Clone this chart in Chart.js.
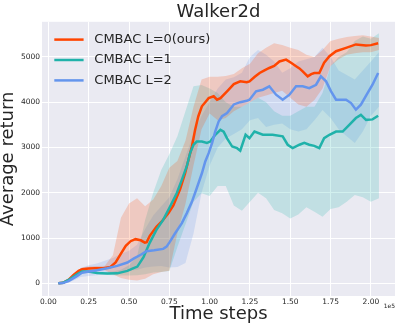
<!DOCTYPE html>
<html>
<head>
<meta charset="utf-8">
<script src="https://cdn.jsdelivr.net/npm/chart.js@4/dist/chart.umd.min.js"></script>
<style>
html,body{margin:0;padding:0;background:#fff;}
canvas{display:block;}
</style>
</head>
<body>
<canvas id="c" width="399" height="325"></canvas>
<script>
// ---- data ----
const seriesLabels = ['CMBAC L=0(ours)', 'CMBAC L=1', 'CMBAC L=2'];

// mean curves, each with its own time steps
const stepsL0 = [6200,9000,12500,15600,18750,21000,25000,29000,34000,38500,41700,44800,48000,51000,54000,57300,59800,61000,62900,67000,70200,74400,77500,81700,84800,86900,89000,91000,93000,95200,97300,99400,102500,104600,106700,110800,115000,119000,123000,124700,128000,131000,134000,137000,140000,143300,147400,150500,153600,155700,157700,160800,163000,164900,168000,171000,174300,178400,184600,190700,196900,200000,204500];
const meanL0  = [0,10,75,185,275,310,325,333,333,360,460,645,830,930,975,950,900,910,1050,1250,1360,1545,1720,2080,2430,2730,3020,3390,3690,3910,4000,4090,4130,4055,4090,4240,4400,4460,4440,4460,4560,4645,4700,4755,4800,4900,4940,4870,4795,4745,4680,4570,4620,4645,4645,4870,5015,5125,5200,5275,5250,5260,5300];

const stepsL1 = [6200,9000,12500,17700,20800,25000,30200,36500,42700,49000,52500,55200,59000,62900,67000,71200,75400,79600,82700,85800,87900,90000,92000,95200,98300,100400,103500,106700,108700,110800,114000,117000,119000,122300,124700,127800,133000,139000,145300,148400,151500,155700,158700,161800,164900,168000,171000,174300,178400,182500,186600,190700,193800,197000,201000,204500];
const meanL1  = [0,10,75,200,260,260,230,215,220,275,330,370,580,900,1180,1400,1690,1990,2280,2580,2875,3060,3130,3130,3100,3130,3280,3390,3350,3200,3020,2985,2930,3280,3205,3350,3280,3280,3245,3060,2985,3060,3100,3060,3035,2985,3205,3280,3350,3350,3500,3650,3720,3610,3620,3700];

const stepsL2 = [6200,9000,12500,17700,20800,25000,30200,36500,42700,49000,53100,57300,60800,65600,71200,73300,75400,78500,82700,85800,89000,92000,95200,97300,99400,101500,103500,105600,107700,110800,115000,119000,123000,124700,128800,133000,137000,141200,145300,149500,153600,157700,161800,166000,169000,172200,175300,178400,181500,184600,187700,190700,193800,198000,201000,204500];
const meanL2  = [0,5,50,160,235,260,290,333,385,460,550,630,710,730,760,810,920,1100,1325,1545,1800,2100,2430,2690,2875,3095,3355,3575,3690,3760,3950,4000,4030,4055,4240,4275,4350,4165,4055,4165,4350,4350,4310,4385,4570,4460,4240,4055,4055,4055,3980,3835,3945,4205,4385,4645];

// shaded bands (upper / lower), on a common step grid
const stepsBand = [6000,10000,15000,20000,25000,30000,35000,40000,45000,50000,55000,60000,65000,70000,75000,80000,85000,90000,95000,100000,105000,110000,115000,120000,125000,130000,135000,140000,145000,150000,155000,160000,165000,170000,175000,180000,185000,190000,195000,200000,205000];
const upperL0 = [0,30,150,340,370,380,390,620,1450,1760,1880,1700,1850,2150,2550,2700,3150,3900,4500,4560,4560,4580,4620,4750,4850,5080,5200,5300,5260,5200,5150,5050,5000,5150,5350,5400,5440,5460,5480,5450,5420];
const lowerL0 = [0,5,80,250,290,300,290,200,120,80,60,100,200,250,280,1100,1750,2600,3400,3750,3600,3650,3800,3900,4000,4100,4150,4200,4250,4100,3950,3900,4050,4300,4800,4950,5050,5080,5100,5100,5150];
const upperL1 = [0,25,140,270,280,260,250,260,300,400,600,1400,2000,2500,2850,3250,3800,4350,4380,4300,4200,4000,3900,3900,4000,4100,4000,3800,3700,3700,3800,3900,3900,4200,4800,5000,5100,5350,5450,5400,5520];
const lowerL1 = [0,5,100,210,230,210,190,180,170,170,180,200,240,250,270,800,1300,1800,1990,1930,2150,2150,1720,1600,1800,2000,1880,1620,1550,1430,1520,1680,1580,1470,1640,1680,1800,1950,1900,1800,1880];
const upperL2 = [0,25,130,340,400,440,500,560,650,720,850,1200,1500,1700,1900,2300,2800,3300,3700,4000,4300,4500,4550,4650,5000,5150,5050,4900,4650,4750,4900,4950,5000,5200,5000,4700,4600,4500,4700,4900,5100];
const lowerL2 = [0,0,50,140,160,180,200,220,240,280,300,350,370,380,350,360,450,1100,2000,2600,3000,3200,3300,3400,3600,3650,3450,3500,3530,3400,3350,3400,3600,3830,3650,3400,3250,3100,3350,3700,3900];

const xTicks = [0,25000,50000,75000,100000,125000,150000,175000,200000];
const yTicks = [0,1000,2000,3000,4000,5000];

const lineColors = ['#ff4500', '#20b2aa', '#6495ed'];
const bandColors = ['rgba(255,69,0,0.2)', 'rgba(32,178,170,0.2)', 'rgba(100,149,237,0.2)'];

// ---- build datasets ----
const pts = (xs, ys) => xs.map((s, i) => ({x: s, y: ys[i]}));
const meanSteps = [stepsL0, stepsL1, stepsL2];
const means = [meanL0, meanL1, meanL2];
const uppers = [upperL0, upperL1, upperL2];
const lowers = [lowerL0, lowerL1, lowerL2];
const lineOrder = [2, 1, 0];

const datasets = [];
for (let k = 0; k < 3; k++) {
  datasets.push({
    label: seriesLabels[k] + ' upper',
    data: pts(stepsBand, uppers[k]),
    borderColor: 'rgba(0,0,0,0)',
    borderWidth: 0,
    backgroundColor: bandColors[k],
    pointRadius: 0,
    fill: '+1',
    order: 3 + k
  });
  datasets.push({
    label: seriesLabels[k] + ' lower',
    data: pts(stepsBand, lowers[k]),
    borderColor: 'rgba(0,0,0,0)',
    borderWidth: 0,
    backgroundColor: 'rgba(0,0,0,0)',
    pointRadius: 0,
    fill: false,
    order: 3 + k
  });
}
for (let k = 0; k < 3; k++) {
  datasets.push({
    label: seriesLabels[k],
    data: pts(meanSteps[k], means[k]),
    borderColor: lineColors[k],
    backgroundColor: lineColors[k],
    borderWidth: 2.5,
    pointRadius: 0,
    fill: false,
    order: lineOrder[k],
    tension: 0
  });
}

const FONT = '"DejaVu Sans", "Liberation Sans", sans-serif';
const TXT = '#262626';

const bgPlugin = {
  id: 'bg',
  beforeDraw(chart) {
    const {ctx, chartArea: a} = chart;
    ctx.save();
    ctx.fillStyle = '#ffffff';
    ctx.fillRect(0, 0, chart.width, chart.height);
    ctx.fillStyle = '#eaeaf2';
    ctx.fillRect(a.left, a.top, a.right - a.left, a.bottom - a.top);
    ctx.restore();
  }
};

const legendPlugin = {
  id: 'customLegend',
  afterDraw(chart) {
    const {ctx, chartArea: a} = chart;
    ctx.save();
    ctx.font = '13px ' + FONT;
    ctx.textBaseline = 'middle';
    ctx.textAlign = 'left';
    seriesLabels.forEach((lab, i) => {
      const y = a.top + 17.8 + i * 20.4;
      ctx.strokeStyle = lineColors[i];
      ctx.lineWidth = 2.5;
      ctx.beginPath();
      ctx.moveTo(a.left + 12.3, y);
      ctx.lineTo(a.left + 41.6, y);
      ctx.stroke();
      ctx.fillStyle = TXT;
      ctx.fillText(lab, a.left + 52.3, y);
    });
    // axis offset text
    ctx.font = '6px ' + FONT;
    ctx.textAlign = 'right';
    ctx.fillText('1e5', a.right, a.bottom + 10);
    ctx.restore();
  }
};

new Chart(document.getElementById('c'), {
  type: 'line',
  data: {datasets},
  options: {
    responsive: false,
    devicePixelRatio: 1,
    animation: false,
    layout: {padding: {left: 0, right: 4, top: 0, bottom: 0}},
    plugins: {
      legend: {display: false},
      tooltip: {enabled: false},
      title: {
        display: true,
        fullSize: false,
        text: 'Walker2d',
        color: TXT,
        font: {family: FONT, size: 18, weight: 'normal', lineHeight: 1.1},
        padding: {top: 2, bottom: 0}
      }
    },
    scales: {
      x: {
        type: 'linear',
        min: -3950,
        max: 214950,
        afterBuildTicks: s => { s.ticks = xTicks.map(v => ({value: v})); },
        afterFit: s => { s.height = 29; },
        ticks: {
          autoSkip: false, maxRotation: 0, padding: 2,
          color: TXT, font: {family: FONT, size: 7.5},
          callback: v => (v / 1e5).toFixed(2)
        },
        grid: {color: '#ffffff', lineWidth: 1, drawTicks: false, tickLength: 0},
        border: {display: false},
        title: {
          display: true, text: 'Time steps', color: TXT,
          font: {family: FONT, size: 18}, padding: {top: 0, bottom: 0}
        }
      },
      y: {
        type: 'linear',
        min: -280,
        max: 5775,
        afterBuildTicks: s => { s.ticks = yTicks.map(v => ({value: v})); },
        afterFit: s => { s.width = 42; },
        ticks: {
          autoSkip: false, padding: 2,
          color: TXT, font: {family: FONT, size: 7.5},
          callback: v => String(v)
        },
        grid: {color: '#ffffff', lineWidth: 1, drawTicks: false, tickLength: 0},
        border: {display: false},
        title: {
          display: true, text: 'Average return', color: TXT,
          font: {family: FONT, size: 18}, padding: {top: -2, bottom: 0}
        }
      }
    }
  },
  plugins: [bgPlugin, legendPlugin]
});
</script>
</body>
</html>
